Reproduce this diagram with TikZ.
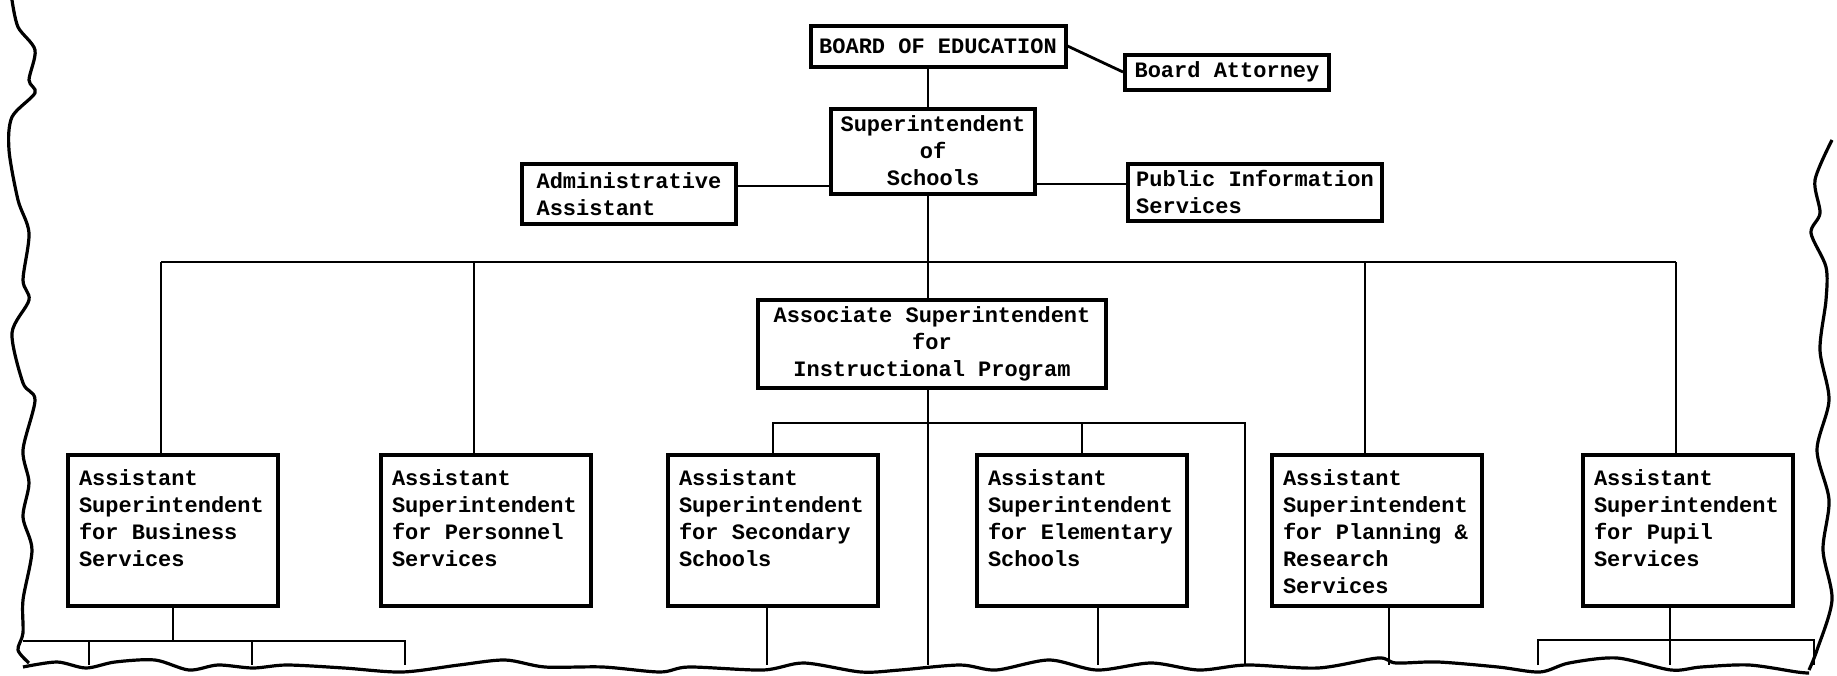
\documentclass[tikz,border=0pt]{standalone}
\usepackage{fontspec}
\setmonofont{Liberation Mono}
\usetikzlibrary{positioning}

\newcommand{\asstext}[1]{\parbox[c][60pt][t]{94pt}{\raggedright #1}}

\begin{document}
\begin{tikzpicture}[
    x=0.5pt, y=-0.5pt,
    every node/.style={font=\ttfamily\bfseries\fontsize{11pt}{13.5pt}\selectfont},
    topbox/.style={draw, line width=2pt, inner sep=3pt, align=center},
    asstbox/.style={draw, line width=2pt, inner sep=0pt, minimum width=105pt, minimum height=75.5pt},
    link/.style={line width=1.4pt},
    torn/.style={line width=1.6pt, line join=round}
]
\useasboundingbox (0,0) rectangle (1837,675);

% top of the chart
\node[topbox, minimum width=127.5pt, minimum height=20.5pt] (board) at (938,46) {BOARD OF EDUCATION};
\node[topbox, minimum width=102pt, minimum height=17.5pt] (attorney) at (1227,72) {Board Attorney};
\node[topbox, minimum width=102pt, minimum height=42.5pt] (supt) at (933,151) {Superintendent\\of\\Schools};
\node[topbox, minimum width=107pt, minimum height=30pt, align=left] (admin) at (629,194) {Administrative\\Assistant};
\node[topbox, minimum width=127pt, minimum height=28.5pt, align=left] (pubinfo) at (1255,192) {Public Information\\Services};
\node[topbox, minimum width=174pt, minimum height=44pt] (assoc) at (932,344) {Associate Superintendent\\for\\Instructional Program};

% assistant superintendents
\node[asstbox] (bus) at (173,530) {\asstext{Assistant\\Superintendent\\for Business\\Services}};
\node[asstbox] (pers) at (486,530) {\asstext{Assistant\\Superintendent\\for Personnel\\Services}};
\node[asstbox] (sec) at (773,530) {\asstext{Assistant\\Superintendent\\for Secondary\\Schools}};
\node[asstbox] (elem) at (1082,530) {\asstext{Assistant\\Superintendent\\for Elementary\\Schools}};
\node[asstbox] (plan) at (1377,530) {\asstext{Assistant\\Superintendent\\for Planning \&\\Research\\Services}};
\node[asstbox] (pupil) at (1688,530) {\asstext{Assistant\\Superintendent\\for Pupil\\Services}};

\coordinate (spine) at (928,0);
\coordinate (bar) at (0,262);
\coordinate (instr) at (0,423);
\coordinate (offside) at (1245,0);
\coordinate (foot) at (0,641);
\coordinate (edge) at (0,665);

% connectors
\draw[link] (board.east) -- (attorney.west);
\draw[link] (board.south -| spine) -- (supt.north -| spine);
\draw[link] ([yshift=4pt]admin.east) -- ([yshift=4pt]admin.east -| supt.west);
\draw[link] ([yshift=4pt]pubinfo.west) -- ([yshift=4pt]pubinfo.west -| supt.east);
\draw[link] (supt.south -| spine) -- (assoc.north -| spine);
\draw[link] (assoc.south -| spine) -- (spine |- edge);
\draw[link] ([xshift=-6pt]bus.north |- bar) -- ([xshift=-6pt]pupil.north |- bar);
\foreach \b in {bus,pers,plan,pupil}
  \draw[link] ([xshift=-6pt]\b.north |- bar) -- ([xshift=-6pt]\b.north);
\draw[link] (sec.north) |- (offside |- instr) -- (offside |- edge);
\draw[link] (elem.north) -- (elem.north |- instr);

% lines running off the torn page
\coordinate (bfL) at (23,641);
\coordinate (bfR) at (405,641);
\coordinate (pfL) at (1538,640);
\coordinate (pfR) at (1814,640);
\draw[link] (bus.south) -- (bus.south |- foot);
\draw[link] (bfL) -- (bfR) -- (bfR |- edge);
\foreach \x in {89,252}
  \draw[link] (\x,641) -- (\x,665);
\draw[link] ([xshift=-3pt]sec.south) -- ([xshift=-3pt]sec.south |- edge);
\draw[link] ([xshift=8pt]elem.south) -- ([xshift=8pt]elem.south |- edge);
\draw[link] ([xshift=6pt]plan.south) -- ([xshift=6pt]plan.south |- edge);
\draw[link] ([xshift=-9pt]pupil.south) -- ([xshift=-9pt]pupil.south |- edge);
\draw[link] (pfL |- edge) -- (pfL) -- (pfR) -- (pfR |- edge);

% torn edges
\draw[torn] plot[smooth, tension=0.5] coordinates {(12,0) (18,27) (35,50) (29,80) (35,93) (12,117) (9,150) (18,200) (29,233) (23,280) (29,300) (12,333) (23,383) (35,400) (23,450) (29,483) (23,517) (32,550) (23,600) (23,633) (18,650) (29,663)};
\draw[torn] plot[smooth, tension=0.5] coordinates {(23,667) (57,662) (86,668) (115,662) (155,660) (189,670) (218,665) (253,668) (287,665) (344,668) (402,672) (459,665) (505,660) (545,667) (603,667) (660,672) (689,667) (763,670) (804,663) (861,672) (900,670) (960,665) (996,670) (1049,660) (1097,670) (1151,663) (1199,670) (1247,665) (1318,668) (1378,658) (1396,663) (1438,662) (1498,667) (1540,672) (1569,663) (1617,658) (1671,670) (1701,667) (1749,665) (1797,672) (1809,673)};
\draw[torn] plot[smooth, tension=0.5] coordinates {(1832,140) (1815,180) (1820,213) (1811,233) (1826,267) (1826,300) (1820,350) (1829,400) (1817,450) (1829,500) (1823,550) (1832,600) (1817,650) (1809,670)};
\end{tikzpicture}
\end{document}
